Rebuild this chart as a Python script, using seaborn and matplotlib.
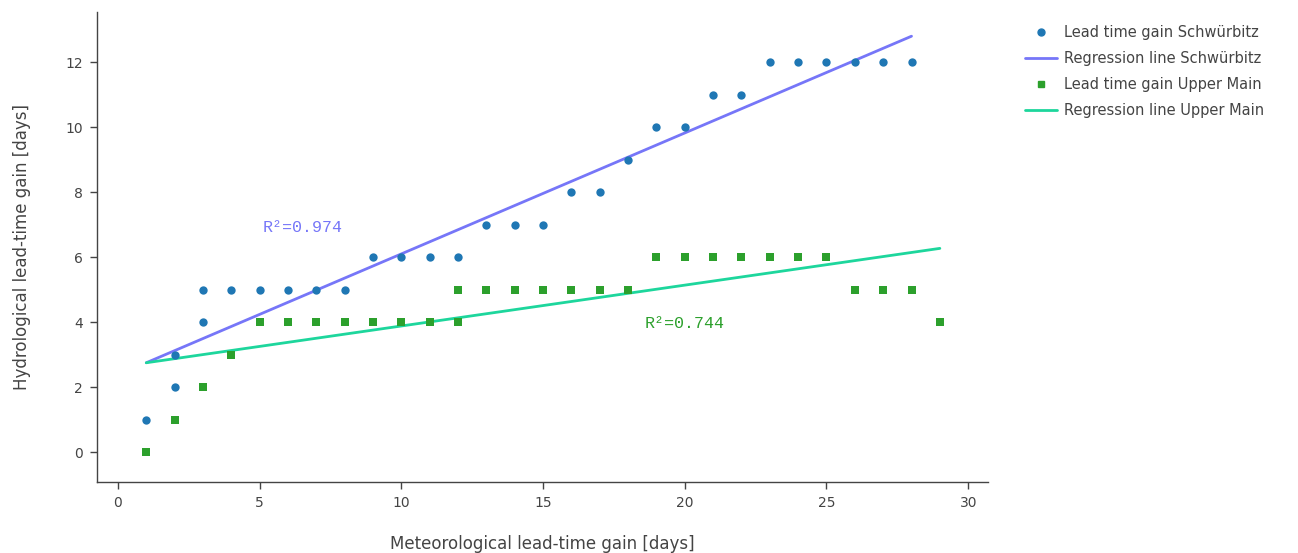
import numpy as np
import pandas as pd
import matplotlib.pyplot as plt
import seaborn as sns
from matplotlib.lines import Line2D

# Data
SCHW_X = [1, 2, 2, 3, 3, 4, 5, 6, 7, 8, 9, 10, 11, 12, 13, 14, 15, 16, 17, 18,
          19, 20, 21, 22, 23, 24, 25, 26, 27, 28]
SCHW_Y = [1, 2, 3, 4, 5, 5, 5, 5, 5, 5, 6, 6, 6, 6, 7, 7, 7, 8, 8, 9,
          10, 10, 11, 11, 12, 12, 12, 12, 12, 12]
MAIN_X = [1, 2, 3, 4, 5, 6, 7, 8, 9, 10, 11, 12, 12, 13, 14, 15, 16, 17, 18,
          19, 20, 21, 22, 23, 24, 25, 26, 27, 28, 29]
MAIN_Y = [0, 1, 2, 3, 4, 4, 4, 4, 4, 4, 4, 4, 5, 5, 5, 5, 5, 5, 5,
          6, 6, 6, 6, 6, 6, 6, 5, 5, 5, 4]

# Regression line end points
REG_SCHW_X = [1, 28]
REG_SCHW_Y = [2.75, 12.8]
REG_MAIN_X = [1, 29]
REG_MAIN_Y = [2.75, 6.27]

R2_SCHW = 0.974
R2_MAIN = 0.744

C_SCHW_PTS = '#1f77b4'
C_SCHW_LINE = '#7676f8'
C_MAIN_PTS = '#2ca02c'
C_MAIN_LINE = '#1dd69c'
TEXT_COLOR = '#444444'

sns.set_style('white')
plt.rcParams['font.family'] = ['DejaVu Sans']

fig = plt.figure(figsize=(12.98, 5.53), dpi=100)
ax = fig.add_axes([0.0747, 0.1284, 0.6865, 0.8496])

schw = pd.DataFrame({'x': SCHW_X, 'y': SCHW_Y})
main = pd.DataFrame({'x': MAIN_X, 'y': MAIN_Y})

sns.lineplot(x=REG_SCHW_X, y=REG_SCHW_Y, color=C_SCHW_LINE, linewidth=2, ax=ax)
sns.lineplot(x=REG_MAIN_X, y=REG_MAIN_Y, color=C_MAIN_LINE, linewidth=2, ax=ax)
sns.scatterplot(data=schw, x='x', y='y', color=C_SCHW_PTS, marker='o', s=36,
                linewidth=0, ax=ax, zorder=3)
sns.scatterplot(data=main, x='x', y='y', color=C_MAIN_PTS, marker='s', s=36,
                linewidth=0, ax=ax, zorder=3)

ax.text(6.5, 6.92, f'R²={R2_SCHW}', color=C_SCHW_LINE, fontsize=12,
        family='Liberation Mono', ha='center', va='center')
ax.text(20.0, 3.97, f'R²={R2_MAIN}', color=C_MAIN_PTS, fontsize=12,
        family='Liberation Mono', ha='center', va='center')

ax.set_xlim(-0.74, 30.7)
ax.set_ylim(-0.92, 13.54)
ax.set_xticks([0, 5, 10, 15, 20, 25, 30])
ax.set_yticks([0, 2, 4, 6, 8, 10, 12])

for side in ['top', 'right']:
    ax.spines[side].set_visible(False)
for side in ['left', 'bottom']:
    ax.spines[side].set_color('#444444')
    ax.spines[side].set_linewidth(1)

ax.tick_params(axis='both', direction='out', length=5, width=1, color='#444444',
               labelsize=10, labelcolor=TEXT_COLOR, pad=5,
               bottom=True, left=True)
ax.set_xlabel('Meteorological lead-time gain [days]', fontsize=12,
              color=TEXT_COLOR, labelpad=18)
ax.set_ylabel('Hydrological lead-time gain [days]', fontsize=12,
              color=TEXT_COLOR, labelpad=25)

handles = [
    Line2D([], [], marker='o', color=C_SCHW_PTS, linestyle='none', markersize=5),
    Line2D([], [], color=C_SCHW_LINE, linewidth=2),
    Line2D([], [], marker='s', color=C_MAIN_PTS, linestyle='none', markersize=5),
    Line2D([], [], color=C_MAIN_LINE, linewidth=2),
]
labels = ['Lead time gain Schwürbitz', 'Regression line Schwürbitz',
          'Lead time gain Upper Main', 'Regression line Upper Main']
leg = fig.legend(handles, labels, loc='upper left', bbox_to_anchor=(0.785, 0.965),
                 frameon=False, fontsize=10.5, handlelength=2.2, handletextpad=0.5,
                 labelspacing=0.75, borderaxespad=0)
for t in leg.get_texts():
    t.set_color(TEXT_COLOR)

fig.savefig('out.png', dpi=100, facecolor='white')
